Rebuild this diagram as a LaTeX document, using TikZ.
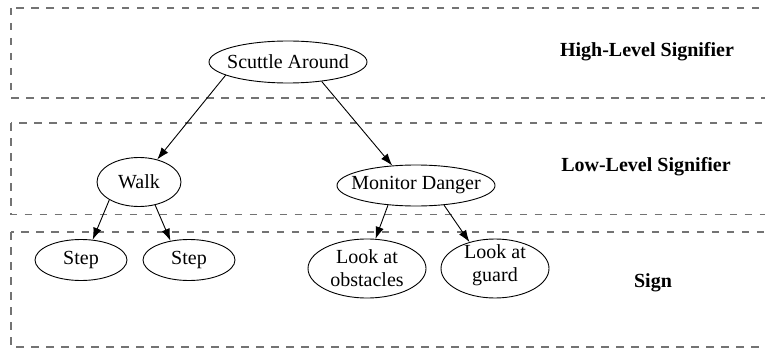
\documentclass[tikz,border=0pt]{standalone}
\usepackage{fontspec}
\setmainfont{Liberation Serif}
\usetikzlibrary{shapes.geometric,arrows.meta}
\begin{document}
\begin{tikzpicture}[x=1pt,y=-1pt,
  font=\fontsize{20}{23}\selectfont,
  band/.style={draw=black!55, line width=1.1pt, dash pattern=on 7.5pt off 7.5pt},
  el/.style={ellipse, draw, line width=0.9pt, inner sep=0pt},
  lab/.style={font=\fontsize{20}{23}\selectfont\bfseries},
  arr/.style={line width=0.9pt, -{Latex[length=12pt,width=8.5pt]}}]
\useasboundingbox (0,0) rectangle (765,350);
\clip (0,0) rectangle (765,350);
% bands
\draw[band] (11,8) rectangle (790,98);
\draw[band] (11,123) rectangle (790,214.5);
\draw[band] (11,232) rectangle (790,347);
% labels
\node[lab] (hl) at (647,52) {High-Level Signifier};
\node[lab] (ll) at (646,167) {Low-Level Signifier};
\node[lab] (sg) at (653,283) {Sign};
% nodes
\node[el, minimum width=158pt, minimum height=42pt, label={center:Scuttle Around}] (s) at (288,62) {};
\node[el, minimum width=84pt, minimum height=49pt, label={center:Walk}] (w) at (139,182) {};
\node[el, minimum width=158pt, minimum height=41pt, label={center:Monitor Danger}] (m) at (416,185.5) {};
\node[el, minimum width=92pt, minimum height=41pt, label={center:Step}] (s1) at (81,260) {};
\node[el, minimum width=92pt, minimum height=41pt, label={center:Step}] (s2) at (189,260) {};
\node[el, minimum width=118pt, minimum height=59pt, label={[align=center]center:Look at\\obstacles}] (lo) at (367,268.5) {};
\node[el, minimum width=108pt, minimum height=59pt, label={[align=center,yshift=3pt]center:Look at\\guard}] (lg) at (495,268.5) {};
% edges
\draw[arr] (s.192) -- (w.51);
\draw[arr] (s.330) -- (m.140);
\draw[arr] (w.211) -- (s1.60);
\draw[arr] (w.305) -- (s2.134);
\draw[arr] (m.215) -- (lo.74);
\draw[arr] (m.325) -- (lg.134);
\end{tikzpicture}
\end{document}
